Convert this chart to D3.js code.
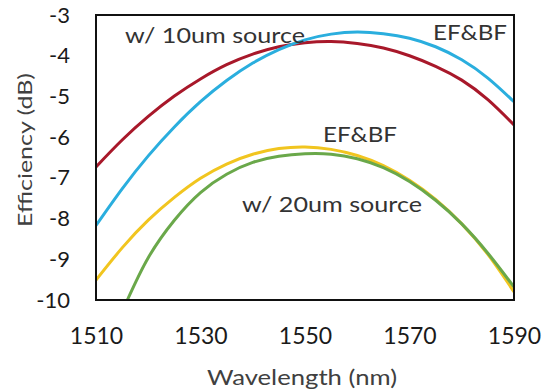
<!DOCTYPE html>
<html>
<head>
<meta charset="utf-8">
<script src="https://cdn.jsdelivr.net/npm/d3@7"></script>
<style>
  body { margin: 0; background: #fff; }
  svg text { font-family: Lato, "Open Sans", sans-serif; }
</style>
</head>
<body>
<div id="chart"></div>
<script>
// wavelengths (nm) shared by most curves
const wl = [1510,1515,1520,1525,1530,1535,1540,1545,1550,1555,1560,1565,1570,1575,1580,1585,1590]

// efficiency (dB)
const red_10um  = [-6.73,-6.07,-5.49,-4.99,-4.57,-4.22,-3.96,-3.78,-3.68,-3.65,-3.70,-3.81,-4.00,-4.26,-4.60,-5.08,-5.70]
const blue_10um = [-8.17,-7.27,-6.46,-5.75,-5.13,-4.61,-4.18,-3.85,-3.61,-3.47,-3.42,-3.46,-3.57,-3.78,-4.10,-4.55,-5.13]
const yellow_20um = [-9.51,-8.72,-8.04,-7.48,-7.01,-6.66,-6.42,-6.28,-6.24,-6.30,-6.45,-6.70,-7.06,-7.53,-8.13,-8.88,-9.80]
// green starts where it leaves the bottom of the frame
const green_wl = [1516,1520,1525,1530,1535,1540,1545,1550,1555,1560,1565,1570,1575,1580,1585,1590]
const green_20um = [-10.0,-8.96,-8.04,-7.36,-6.91,-6.62,-6.47,-6.41,-6.42,-6.53,-6.75,-7.09,-7.55,-8.13,-8.85,-9.68]

const xTicks = [1510,1530,1550,1570,1590]
const yTicks = [-3,-4,-5,-6,-7,-8,-9,-10]

const series = [
  {name: "red", x: wl, y: red_10um, color: "#a8182a"},
  {name: "blue", x: wl, y: blue_10um, color: "#2aaede"},
  {name: "yellow", x: wl, y: yellow_20um, color: "#f1c51f"},
  {name: "green", x: green_wl, y: green_20um, color: "#6aa84a"},
]

const W = 543, H = 392
const m = {left: 96, right: 29, top: 15, bottom: 92}

const svg = d3.select("#chart").append("svg")
  .attr("width", W).attr("height", H)

const x = d3.scaleLinear().domain([1510,1590]).range([m.left, W - m.right])
const y = d3.scaleLinear().domain([-10,-3]).range([H - m.bottom, m.top])

svg.append("clipPath").attr("id", "plotclip")
  .append("rect")
  .attr("x", m.left).attr("y", m.top)
  .attr("width", W - m.left - m.right).attr("height", H - m.top - m.bottom)

// curves
const line = d3.line().curve(d3.curveNatural)
svg.append("g").attr("clip-path", "url(#plotclip)")
  .selectAll("path")
  .data(series)
  .join("path")
    .attr("d", s => line(s.x.map((v,i) => [x(v), y(s.y[i])])))
    .attr("fill", "none")
    .attr("stroke", s => s.color)
    .attr("stroke-width", 3)

// frame
svg.append("rect")
  .attr("x", m.left).attr("y", m.top)
  .attr("width", W - m.left - m.right).attr("height", H - m.top - m.bottom)
  .attr("fill", "none").attr("stroke", "#111").attr("stroke-width", 2)

// axes (labels only, no tick marks)
const xAxis = svg.append("g")
  .attr("transform", `translate(0,${H - m.bottom})`)
  .call(d3.axisBottom(x).tickValues(xTicks).tickSize(0).tickPadding(28).tickFormat(d3.format("d")))
xAxis.select(".domain").remove()
xAxis.selectAll("text").attr("font-size", 23).attr("fill", "#1a1a1a").attr("font-family", "Lato")

const yAxis = svg.append("g")
  .attr("transform", `translate(${m.left},0)`)
  .call(d3.axisLeft(y).tickValues(yTicks).tickSize(0).tickPadding(26).tickFormat(d => d3.format("d")(d).replace("−","-")))
yAxis.select(".domain").remove()
yAxis.selectAll("text").attr("font-size", 22).attr("fill", "#1a1a1a").attr("font-family", "Lato")

// axis titles
svg.append("text")
  .attr("x", 302).attr("y", 385)
  .attr("text-anchor", "middle")
  .attr("font-size", 22).attr("fill", "#404040")
  .attr("textLength", 190).attr("lengthAdjust", "spacingAndGlyphs")
  .text("Wavelength (nm)")

svg.append("text")
  .attr("transform", "translate(32,150) rotate(-90)")
  .attr("text-anchor", "middle")
  .attr("font-size", 20).attr("fill", "#404040")
  .attr("textLength", 154).attr("lengthAdjust", "spacingAndGlyphs")
  .text("Efficiency (dB)")

// annotations
const notes = [
  {t: "w/ 10um source", x: 125, y: 43, w: 180},
  {t: "EF&BF", x: 433, y: 40, w: 74},
  {t: "EF&BF", x: 323, y: 142, w: 74},
  {t: "w/ 20um source", x: 242, y: 212, w: 180},
]
svg.selectAll("text.note")
  .data(notes)
  .join("text")
    .attr("class", "note")
    .attr("x", d => d.x).attr("y", d => d.y)
    .attr("font-size", 22).attr("fill", "#333")
    .attr("textLength", d => d.w).attr("lengthAdjust", "spacingAndGlyphs")
    .text(d => d.t)
</script>
</body>
</html>
